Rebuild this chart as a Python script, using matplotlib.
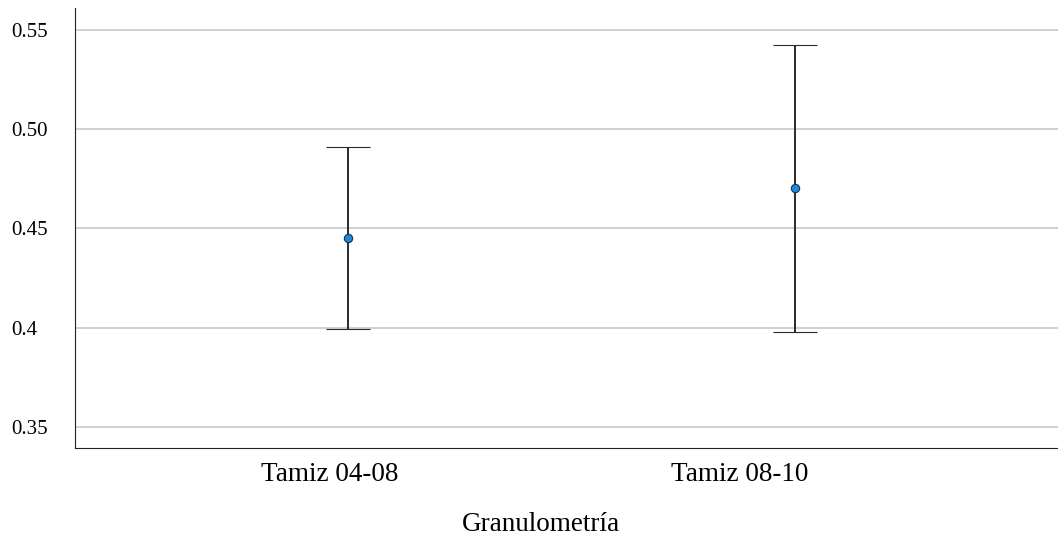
import matplotlib.pyplot as plt
import matplotlib.transforms as mtransforms

plt.rcParams['font.family'] = ['Liberation Serif', 'DejaVu Serif']

groups = ["Tamiz 04-08", "Tamiz 08-10"]
means = [0.445, 0.4703]
upper = [0.4909, 0.5424]
lower = [0.3995, 0.398]
yticks = [0.35, 0.40, 0.45, 0.50, 0.55]
ytick_labels = ["0.35", "0.4", "0.45", "0.50", "0.55"]

fig = plt.figure(figsize=(10.58, 5.40), dpi=100)
ax = fig.add_axes([75 / 1058, 1 - 448 / 540, 1 - 75 / 1058, 440 / 540])

x = list(range(len(groups)))
err_lo = [m - l for m, l in zip(means, lower)]
err_hi = [u - m for m, u in zip(means, upper)]
ax.errorbar(x, means, yerr=[err_lo, err_hi], fmt='o', color='#1f88d8',
            markeredgecolor='#1a3550', markeredgewidth=0.8, markersize=6,
            ecolor='#2a2a2a', elinewidth=1.4, capsize=16, capthick=1.6, zorder=3)

ax.set_xlim(-0.611, 1.588)
ax.set_ylim(0.3394, 0.561)
ax.set_yticks(yticks)
ax.set_yticklabels(ytick_labels)
ax.set_xticks(x)
ax.set_xticklabels(groups)
ax.grid(axis='y', color='#c8c8c8', linewidth=1.2)
ax.set_axisbelow(True)

for s in ['top', 'right']:
    ax.spines[s].set_visible(False)
ax.spines['left'].set_color('#222222')
ax.spines['bottom'].set_color('#222222')

ax.tick_params(axis='y', length=0, labelsize=15, pad=46)
for lbl in ax.get_yticklabels():
    lbl.set_horizontalalignment('left')
ax.tick_params(axis='x', length=0, labelsize=19.5, pad=10)

# category labels sit a bit left of the points in the original
shifts = [-18, -55]
for lbl, dx in zip(ax.get_xticklabels(), shifts):
    lbl.set_transform(lbl.get_transform() +
                      mtransforms.ScaledTranslation(dx / 100, 0, fig.dpi_scale_trans))

ax.set_xlabel("Granulometría", fontsize=19.5)
ax.xaxis.set_label_coords(0.474, -0.146)

fig.savefig("out.png", dpi=100)
